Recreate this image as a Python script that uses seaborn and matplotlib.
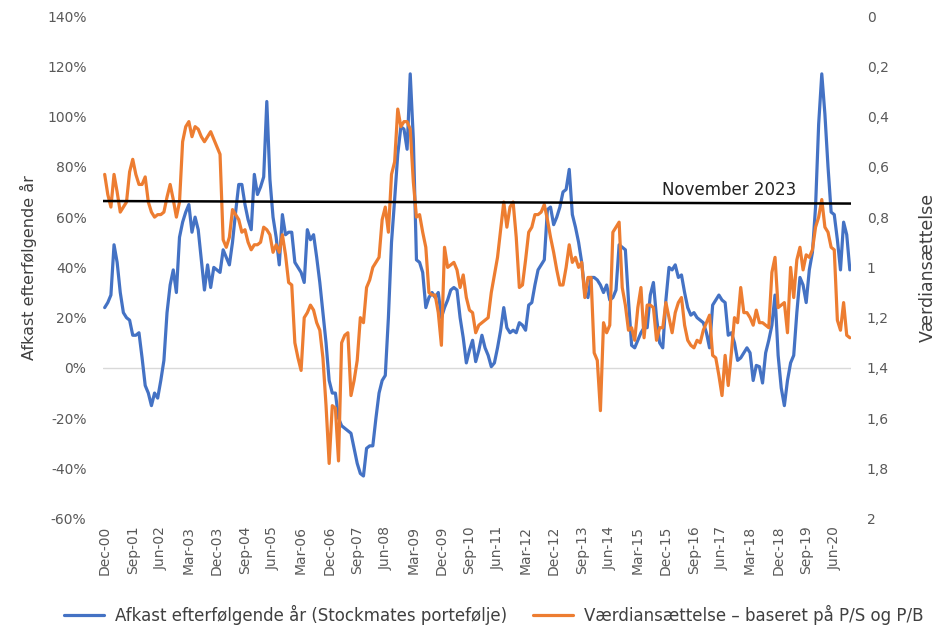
import pandas as pd
import seaborn as sns
import matplotlib.pyplot as plt
from matplotlib.ticker import FuncFormatter

# monthly data Dec-00 .. Nov-20
afkast = [24, 26, 29, 49, 42, 30, 22, 20, 19, 13, 13, 14, 4, -7, -10, -15, -10, -12, -5, 3,
          22, 33, 39, 30, 52, 58, 62, 65, 54, 60, 55, 43, 31, 41, 32, 40, 39, 38, 47, 44,
          41, 50, 62, 73, 73, 65, 59, 55, 77, 69, 72, 76, 106, 75, 60, 52, 41, 61, 53, 54,
          54, 42, 40, 38, 34, 55, 51, 53, 44, 34, 22, 10, -5, -10, -10, -20, -23, -24, -25, -26,
          -32, -38, -42, -43, -32, -31, -31, -20, -10, -5, -3, 20, 50, 67, 85, 96, 95, 87, 117, 91,
          43, 42, 38, 24, 28, 30, 28, 30, 20, 24, 27, 31, 32, 31, 20, 12, 2, 7, 11, 2.5,
          7, 13, 8, 5, 0.5, 2, 8, 15, 24, 16, 14, 15, 14, 18, 17, 15, 25, 26, 33, 39,
          41, 43, 63, 64, 57, 60, 64, 70, 71, 79, 61, 56, 50, 42, 30, 28, 36, 36, 35, 33,
          30, 33, 27, 28, 31, 49, 48, 47, 27, 9, 8, 11, 14, 16, 16, 29, 34, 20, 10, 8,
          27, 40, 39, 41, 36, 37, 30, 24, 21, 22, 20, 19, 18, 14, 8, 25, 27, 29, 27, 26,
          13, 14, 10, 3, 4, 6, 8, 6, -5, 1, 0.5, -6, 6, 11, 17, 29, 5, -8, -15, -5,
          2, 5, 22, 36, 33, 26, 39, 46, 64, 97, 117, 101, 80, 62, 61, 51, 39, 58, 53, 39]

vaerdi = [0.63, 0.71, 0.76, 0.63, 0.70, 0.78, 0.76, 0.74, 0.62, 0.57, 0.63, 0.67, 0.67, 0.64, 0.74, 0.78, 0.80, 0.79, 0.79, 0.78,
          0.72, 0.67, 0.73, 0.80, 0.74, 0.50, 0.44, 0.42, 0.48, 0.44, 0.45, 0.48, 0.50, 0.48, 0.46, 0.49, 0.52, 0.55, 0.89, 0.92,
          0.88, 0.77, 0.79, 0.81, 0.86, 0.85, 0.90, 0.93, 0.91, 0.91, 0.90, 0.84, 0.85, 0.87, 0.94, 0.91, 0.94, 0.87, 0.95, 1.06,
          1.07, 1.30, 1.36, 1.41, 1.20, 1.18, 1.15, 1.17, 1.22, 1.25, 1.36, 1.55, 1.78, 1.55, 1.56, 1.77, 1.30, 1.27, 1.26, 1.51,
          1.45, 1.37, 1.20, 1.22, 1.08, 1.05, 1.00, 0.98, 0.96, 0.81, 0.76, 0.86, 0.63, 0.58, 0.37, 0.44, 0.42, 0.42, 0.45, 0.66,
          0.80, 0.79, 0.86, 0.92, 1.10, 1.11, 1.11, 1.18, 1.31, 0.92, 1.00, 0.99, 0.98, 1.01, 1.08, 1.03, 1.12, 1.17, 1.18, 1.26,
          1.23, 1.22, 1.21, 1.20, 1.10, 1.03, 0.96, 0.85, 0.74, 0.84, 0.76, 0.74, 0.88, 1.08, 1.07, 0.97, 0.86, 0.84, 0.79, 0.79,
          0.78, 0.75, 0.81, 0.88, 0.94, 1.01, 1.07, 1.07, 1.00, 0.91, 0.98, 0.96, 1.00, 0.98, 1.12, 1.04, 1.04, 1.34, 1.37, 1.57,
          1.22, 1.26, 1.23, 0.86, 0.84, 0.82, 1.08, 1.15, 1.25, 1.24, 1.29, 1.16, 1.08, 1.28, 1.15, 1.15, 1.16, 1.29, 1.24, 1.24,
          1.14, 1.20, 1.26, 1.18, 1.14, 1.12, 1.23, 1.29, 1.31, 1.32, 1.29, 1.30, 1.25, 1.22, 1.19, 1.35, 1.36, 1.43, 1.51, 1.35,
          1.47, 1.34, 1.20, 1.22, 1.08, 1.18, 1.18, 1.20, 1.23, 1.17, 1.22, 1.22, 1.23, 1.24, 1.02, 0.96, 1.16, 1.15, 1.14, 1.26,
          1.00, 1.12, 0.97, 0.92, 1.01, 0.95, 0.96, 0.93, 0.84, 0.80, 0.73, 0.84, 0.86, 0.92, 0.93, 1.21, 1.25, 1.14, 1.27, 1.28]

tick_labels = ["Dec-00", "Sep-01", "Jun-02", "Mar-03", "Dec-03", "Sep-04", "Jun-05", "Mar-06", "Dec-06",
               "Sep-07", "Jun-08", "Mar-09", "Dec-09", "Sep-10", "Jun-11", "Mar-12", "Dec-12", "Sep-13",
               "Jun-14", "Mar-15", "Dec-15", "Sep-16", "Jun-17", "Mar-18", "Dec-18", "Sep-19", "Jun-20"]

nov2023 = [0.736, 0.746]  # level of the black reference line (right axis)

blue = "#4472C4"
orange = "#ED7D31"
grey = "#595959"

sns.set_style("white")
plt.rcParams['font.family'] = ['DejaVu Sans']

fig = plt.figure(figsize=(9.46, 6.42), dpi=100)
ax = fig.add_axes([0.109, 0.192, 0.791, 0.783])
ax2 = ax.twinx()

df1 = pd.DataFrame({"m": range(len(afkast)), "v": afkast})
df2 = pd.DataFrame({"m": range(len(vaerdi)), "v": vaerdi})

ax.axhline(0, color="#D9D9D9", lw=1, zorder=0)
sns.lineplot(data=df1, x="m", y="v", ax=ax, color=blue, lw=2.3,
             label="Afkast efterfølgende år (Stockmates portefølje)", legend=False)
sns.lineplot(data=df2, x="m", y="v", ax=ax2, color=orange, lw=2.3,
             label="Værdiansættelse – baseret på P/S og P/B", legend=False)

n = len(afkast)
ax2.plot([-1.5, n - 0.5], nov2023, color="black", lw=1.8)
ax2.text(178.8, 0.692, "November 2023", fontsize=12, ha="left", va="center", color="#222222")

ax.set_xlim(-0.5, n - 0.5)
ax.set_ylim(-60, 140)
ax.set_yticks(range(-60, 141, 20))
ax.yaxis.set_major_formatter(FuncFormatter(lambda v, p: f"{v:.0f}%"))
ax2.set_ylim(2, 0)
ax2.set_yticks([i / 5 for i in range(11)])
ax2.yaxis.set_major_formatter(FuncFormatter(lambda v, p: f"{round(v, 1):g}".replace(".", ",")))

ax.set_xticks(range(0, 9 * len(tick_labels), 9))
ax.set_xticklabels(tick_labels, rotation=90, fontsize=10, color=grey)
ax.tick_params(axis="x", length=0, pad=5)
ax.tick_params(axis="y", length=0, pad=12, labelsize=10, labelcolor=grey)
ax2.tick_params(axis="y", length=0, pad=11, labelsize=10, labelcolor=grey)

ax.set_xlabel("")
ax.set_ylabel("Afkast efterfølgende år", fontsize=11.5, color="#404040")
ax2.set_ylabel("Værdiansættelse", fontsize=12.5, color="#404040")
ax.yaxis.set_label_coords(-0.088, 0.5)
ax2.yaxis.set_label_coords(1.09, 0.5)

for a in (ax, ax2):
    for s in a.spines.values():
        s.set_visible(False)

handles = ax.get_lines()[1:2] + ax2.get_lines()[0:1]
labels = [h.get_label() for h in handles]
fig.legend(handles, labels, loc="center", bbox_to_anchor=(0.522, 0.042), ncol=2, frameon=False,
           fontsize=12, handlelength=2.4, handletextpad=0.7, columnspacing=1.5,
           labelcolor="#404040")

fig.savefig("out.png", dpi=100)
